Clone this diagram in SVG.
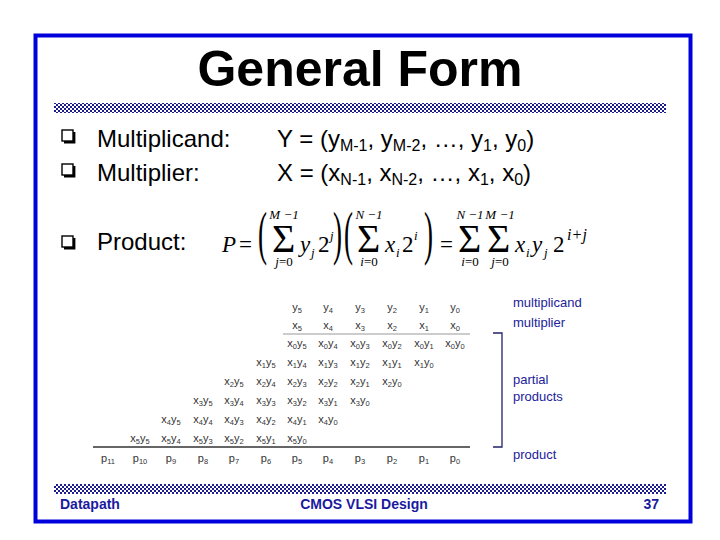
<svg xmlns="http://www.w3.org/2000/svg" width="720" height="540" viewBox="0 0 720 540">
<defs>
<pattern id="chk" patternUnits="userSpaceOnUse" width="4" height="4">
<rect width="4" height="4" fill="#ffffff"/>
<rect width="2" height="2" fill="#1c1c8c"/>
<rect x="2" y="2" width="2" height="2" fill="#1c1c8c"/>
</pattern>
<g id="bul">
<rect x="1" y="1" width="11" height="11" fill="#fff" stroke="#000" stroke-width="1.4"/>
<path d="M3,13.2 H13.2 V3" fill="none" stroke="#000" stroke-width="2.4"/>
</g>
</defs>
<style>
.title{font-family:"Liberation Sans",Arial,sans-serif;font-weight:bold;font-size:50px;fill:#000}
.b{font-family:"Liberation Sans",Arial,sans-serif;font-size:24px;fill:#000}
.bs{font-size:16px}
.m{font-family:"Liberation Serif","Times New Roman",serif;fill:#000}
.i{font-style:italic}
.tb{font-family:"Liberation Sans",Arial,sans-serif;font-size:11px;fill:#333;text-anchor:middle}
.s{font-size:7.5px}
.lbl{font-family:"Liberation Sans",Arial,sans-serif;font-size:13px;fill:#22229a}
.ft{font-family:"Liberation Sans",Arial,sans-serif;font-size:14px;font-weight:bold;fill:#1a1aa0}
</style>
<rect width="720" height="540" fill="#fff"/>
<rect id="frame" x="35.5" y="35.5" width="655" height="486" fill="none" stroke="#0000dd" stroke-width="4"/>
<text class="title" x="360" y="86" text-anchor="middle">General Form</text>
<rect x="54" y="103" width="612" height="10" fill="url(#chk)"/>
<rect x="54" y="484" width="612" height="10" fill="url(#chk)"/>

<g id="bullets">
<use href="#bul" x="61" y="129"/>
<use href="#bul" x="61" y="163"/>
<use href="#bul" x="61" y="235"/>
<text class="b" x="97" y="147">Multiplicand:</text>
<text class="b" x="97" y="181">Multiplier:</text>
<text class="b" x="97" y="250">Product:</text>
<text class="b" x="277" y="147">Y = (y<tspan class="bs" dy="4">M-1</tspan><tspan dy="-4">, y</tspan><tspan class="bs" dy="4">M-2</tspan><tspan dy="-4">, …, y</tspan><tspan class="bs" dy="4">1</tspan><tspan dy="-4">, y</tspan><tspan class="bs" dy="4">0</tspan><tspan dy="-4">)</tspan></text>
<text class="b" x="277" y="181">X = (x<tspan class="bs" dy="4">N-1</tspan><tspan dy="-4">, x</tspan><tspan class="bs" dy="4">N-2</tspan><tspan dy="-4">, …, x</tspan><tspan class="bs" dy="4">1</tspan><tspan dy="-4">, x</tspan><tspan class="bs" dy="4">0</tspan><tspan dy="-4">)</tspan></text>
</g>

<g id="formula">
<text class="m i" x="222" y="252" font-size="23">P</text>
<text class="m" x="239" y="252" font-size="23">=</text>
<text class="m" x="0" y="0" font-size="60" transform="translate(258,253) scale(0.45,1)">(</text>
<text class="m" x="272" y="252" font-size="40">Σ</text>
<text class="m i" x="284" y="219" font-size="13" text-anchor="middle">M −1</text>
<text class="m i" x="284" y="266" font-size="13" text-anchor="middle">j<tspan font-style="normal">=0</tspan></text>
<text class="m i" x="300" y="252" font-size="23">y</text>
<text class="m i" x="311" y="257" font-size="13">j</text>
<text class="m" x="318" y="252" font-size="23">2</text>
<text class="m i" x="330" y="240" font-size="13">j</text>
<text class="m" x="0" y="0" font-size="60" transform="translate(333,253) scale(0.45,1)">)</text>
<text class="m" x="0" y="0" font-size="60" transform="translate(344,253) scale(0.45,1)">(</text>
<text class="m" x="357" y="252" font-size="40">Σ</text>
<text class="m i" x="369" y="219" font-size="13" text-anchor="middle">N −1</text>
<text class="m i" x="369" y="266" font-size="13" text-anchor="middle">i<tspan font-style="normal">=0</tspan></text>
<text class="m i" x="385" y="252" font-size="23">x</text>
<text class="m i" x="396" y="257" font-size="13">i</text>
<text class="m" x="402" y="252" font-size="23">2</text>
<text class="m i" x="414" y="240" font-size="13">i</text>
<text class="m" x="0" y="0" font-size="60" transform="translate(424,253) scale(0.45,1)">)</text>
<text class="m" x="440" y="252" font-size="23">=</text>
<text class="m" x="458" y="252" font-size="40">Σ</text>
<text class="m i" x="470" y="219" font-size="13" text-anchor="middle">N −1</text>
<text class="m i" x="470" y="266" font-size="13" text-anchor="middle">i<tspan font-style="normal">=0</tspan></text>
<text class="m" x="487" y="252" font-size="40">Σ</text>
<text class="m i" x="500" y="219" font-size="13" text-anchor="middle">M −1</text>
<text class="m i" x="500" y="266" font-size="13" text-anchor="middle">j<tspan font-style="normal">=0</tspan></text>
<text class="m i" x="515" y="252" font-size="23">x</text>
<text class="m i" x="526" y="257" font-size="13">i</text>
<text class="m i" x="532" y="252" font-size="23">y</text>
<text class="m i" x="544" y="257" font-size="13">j</text>
<text class="m" x="553" y="252" font-size="23">2</text>
<text class="m i" x="567" y="240" font-size="16">i<tspan font-style="normal" dx="1">+</tspan><tspan dx="1">j</tspan></text>
</g>

<g id="connectors" stroke-linecap="butt">
<line x1="283" y1="334" x2="470" y2="334" stroke="#999" stroke-width="1.2"/>
<line x1="93" y1="447" x2="470" y2="447" stroke="#333" stroke-width="1.4"/>
<path d="M493,333 H502 V447 H493" fill="none" stroke="#22226a" stroke-width="1.3"/>
</g>

<g id="table">
<text class="tb" x="297" y="311">y<tspan class="s" dy="2">5</tspan></text>
<text class="tb" x="328" y="311">y<tspan class="s" dy="2">4</tspan></text>
<text class="tb" x="360" y="311">y<tspan class="s" dy="2">3</tspan></text>
<text class="tb" x="392" y="311">y<tspan class="s" dy="2">2</tspan></text>
<text class="tb" x="424" y="311">y<tspan class="s" dy="2">1</tspan></text>
<text class="tb" x="455" y="311">y<tspan class="s" dy="2">0</tspan></text>
<text class="tb" x="297" y="329">x<tspan class="s" dy="2">5</tspan></text>
<text class="tb" x="328" y="329">x<tspan class="s" dy="2">4</tspan></text>
<text class="tb" x="360" y="329">x<tspan class="s" dy="2">3</tspan></text>
<text class="tb" x="392" y="329">x<tspan class="s" dy="2">2</tspan></text>
<text class="tb" x="424" y="329">x<tspan class="s" dy="2">1</tspan></text>
<text class="tb" x="455" y="329">x<tspan class="s" dy="2">0</tspan></text>
<text class="tb" x="297" y="347">x<tspan class="s" dy="2">0</tspan><tspan dy="-2">y</tspan><tspan class="s" dy="2">5</tspan></text>
<text class="tb" x="328" y="347">x<tspan class="s" dy="2">0</tspan><tspan dy="-2">y</tspan><tspan class="s" dy="2">4</tspan></text>
<text class="tb" x="360" y="347">x<tspan class="s" dy="2">0</tspan><tspan dy="-2">y</tspan><tspan class="s" dy="2">3</tspan></text>
<text class="tb" x="392" y="347">x<tspan class="s" dy="2">0</tspan><tspan dy="-2">y</tspan><tspan class="s" dy="2">2</tspan></text>
<text class="tb" x="424" y="347">x<tspan class="s" dy="2">0</tspan><tspan dy="-2">y</tspan><tspan class="s" dy="2">1</tspan></text>
<text class="tb" x="455" y="347">x<tspan class="s" dy="2">0</tspan><tspan dy="-2">y</tspan><tspan class="s" dy="2">0</tspan></text>
<text class="tb" x="266" y="366">x<tspan class="s" dy="2">1</tspan><tspan dy="-2">y</tspan><tspan class="s" dy="2">5</tspan></text>
<text class="tb" x="297" y="366">x<tspan class="s" dy="2">1</tspan><tspan dy="-2">y</tspan><tspan class="s" dy="2">4</tspan></text>
<text class="tb" x="328" y="366">x<tspan class="s" dy="2">1</tspan><tspan dy="-2">y</tspan><tspan class="s" dy="2">3</tspan></text>
<text class="tb" x="360" y="366">x<tspan class="s" dy="2">1</tspan><tspan dy="-2">y</tspan><tspan class="s" dy="2">2</tspan></text>
<text class="tb" x="392" y="366">x<tspan class="s" dy="2">1</tspan><tspan dy="-2">y</tspan><tspan class="s" dy="2">1</tspan></text>
<text class="tb" x="424" y="366">x<tspan class="s" dy="2">1</tspan><tspan dy="-2">y</tspan><tspan class="s" dy="2">0</tspan></text>
<text class="tb" x="234" y="385">x<tspan class="s" dy="2">2</tspan><tspan dy="-2">y</tspan><tspan class="s" dy="2">5</tspan></text>
<text class="tb" x="266" y="385">x<tspan class="s" dy="2">2</tspan><tspan dy="-2">y</tspan><tspan class="s" dy="2">4</tspan></text>
<text class="tb" x="297" y="385">x<tspan class="s" dy="2">2</tspan><tspan dy="-2">y</tspan><tspan class="s" dy="2">3</tspan></text>
<text class="tb" x="328" y="385">x<tspan class="s" dy="2">2</tspan><tspan dy="-2">y</tspan><tspan class="s" dy="2">2</tspan></text>
<text class="tb" x="360" y="385">x<tspan class="s" dy="2">2</tspan><tspan dy="-2">y</tspan><tspan class="s" dy="2">1</tspan></text>
<text class="tb" x="392" y="385">x<tspan class="s" dy="2">2</tspan><tspan dy="-2">y</tspan><tspan class="s" dy="2">0</tspan></text>
<text class="tb" x="203" y="404">x<tspan class="s" dy="2">3</tspan><tspan dy="-2">y</tspan><tspan class="s" dy="2">5</tspan></text>
<text class="tb" x="234" y="404">x<tspan class="s" dy="2">3</tspan><tspan dy="-2">y</tspan><tspan class="s" dy="2">4</tspan></text>
<text class="tb" x="266" y="404">x<tspan class="s" dy="2">3</tspan><tspan dy="-2">y</tspan><tspan class="s" dy="2">3</tspan></text>
<text class="tb" x="297" y="404">x<tspan class="s" dy="2">3</tspan><tspan dy="-2">y</tspan><tspan class="s" dy="2">2</tspan></text>
<text class="tb" x="328" y="404">x<tspan class="s" dy="2">3</tspan><tspan dy="-2">y</tspan><tspan class="s" dy="2">1</tspan></text>
<text class="tb" x="360" y="404">x<tspan class="s" dy="2">3</tspan><tspan dy="-2">y</tspan><tspan class="s" dy="2">0</tspan></text>
<text class="tb" x="171" y="423">x<tspan class="s" dy="2">4</tspan><tspan dy="-2">y</tspan><tspan class="s" dy="2">5</tspan></text>
<text class="tb" x="203" y="423">x<tspan class="s" dy="2">4</tspan><tspan dy="-2">y</tspan><tspan class="s" dy="2">4</tspan></text>
<text class="tb" x="234" y="423">x<tspan class="s" dy="2">4</tspan><tspan dy="-2">y</tspan><tspan class="s" dy="2">3</tspan></text>
<text class="tb" x="266" y="423">x<tspan class="s" dy="2">4</tspan><tspan dy="-2">y</tspan><tspan class="s" dy="2">2</tspan></text>
<text class="tb" x="297" y="423">x<tspan class="s" dy="2">4</tspan><tspan dy="-2">y</tspan><tspan class="s" dy="2">1</tspan></text>
<text class="tb" x="328" y="423">x<tspan class="s" dy="2">4</tspan><tspan dy="-2">y</tspan><tspan class="s" dy="2">0</tspan></text>
<text class="tb" x="140" y="442">x<tspan class="s" dy="2">5</tspan><tspan dy="-2">y</tspan><tspan class="s" dy="2">5</tspan></text>
<text class="tb" x="171" y="442">x<tspan class="s" dy="2">5</tspan><tspan dy="-2">y</tspan><tspan class="s" dy="2">4</tspan></text>
<text class="tb" x="203" y="442">x<tspan class="s" dy="2">5</tspan><tspan dy="-2">y</tspan><tspan class="s" dy="2">3</tspan></text>
<text class="tb" x="234" y="442">x<tspan class="s" dy="2">5</tspan><tspan dy="-2">y</tspan><tspan class="s" dy="2">2</tspan></text>
<text class="tb" x="266" y="442">x<tspan class="s" dy="2">5</tspan><tspan dy="-2">y</tspan><tspan class="s" dy="2">1</tspan></text>
<text class="tb" x="297" y="442">x<tspan class="s" dy="2">5</tspan><tspan dy="-2">y</tspan><tspan class="s" dy="2">0</tspan></text>
<text class="tb" x="108" y="462">p<tspan class="s" dy="2">11</tspan></text>
<text class="tb" x="140" y="462">p<tspan class="s" dy="2">10</tspan></text>
<text class="tb" x="171" y="462">p<tspan class="s" dy="2">9</tspan></text>
<text class="tb" x="203" y="462">p<tspan class="s" dy="2">8</tspan></text>
<text class="tb" x="234" y="462">p<tspan class="s" dy="2">7</tspan></text>
<text class="tb" x="266" y="462">p<tspan class="s" dy="2">6</tspan></text>
<text class="tb" x="297" y="462">p<tspan class="s" dy="2">5</tspan></text>
<text class="tb" x="328" y="462">p<tspan class="s" dy="2">4</tspan></text>
<text class="tb" x="360" y="462">p<tspan class="s" dy="2">3</tspan></text>
<text class="tb" x="392" y="462">p<tspan class="s" dy="2">2</tspan></text>
<text class="tb" x="424" y="462">p<tspan class="s" dy="2">1</tspan></text>
<text class="tb" x="455" y="462">p<tspan class="s" dy="2">0</tspan></text>
</g>

<g id="labels">
<text class="lbl" x="513" y="307">multiplicand</text>
<text class="lbl" x="513" y="327">multiplier</text>
<text class="lbl" x="513" y="384">partial</text>
<text class="lbl" x="513" y="401">products</text>
<text class="lbl" x="513" y="459">product</text>
</g>

<g id="footer">
<text class="ft" x="60" y="509">Datapath</text>
<text class="ft" x="364" y="509" text-anchor="middle">CMOS VLSI Design</text>
<text class="ft" x="659" y="509" text-anchor="end">37</text>
</g>
</svg>
